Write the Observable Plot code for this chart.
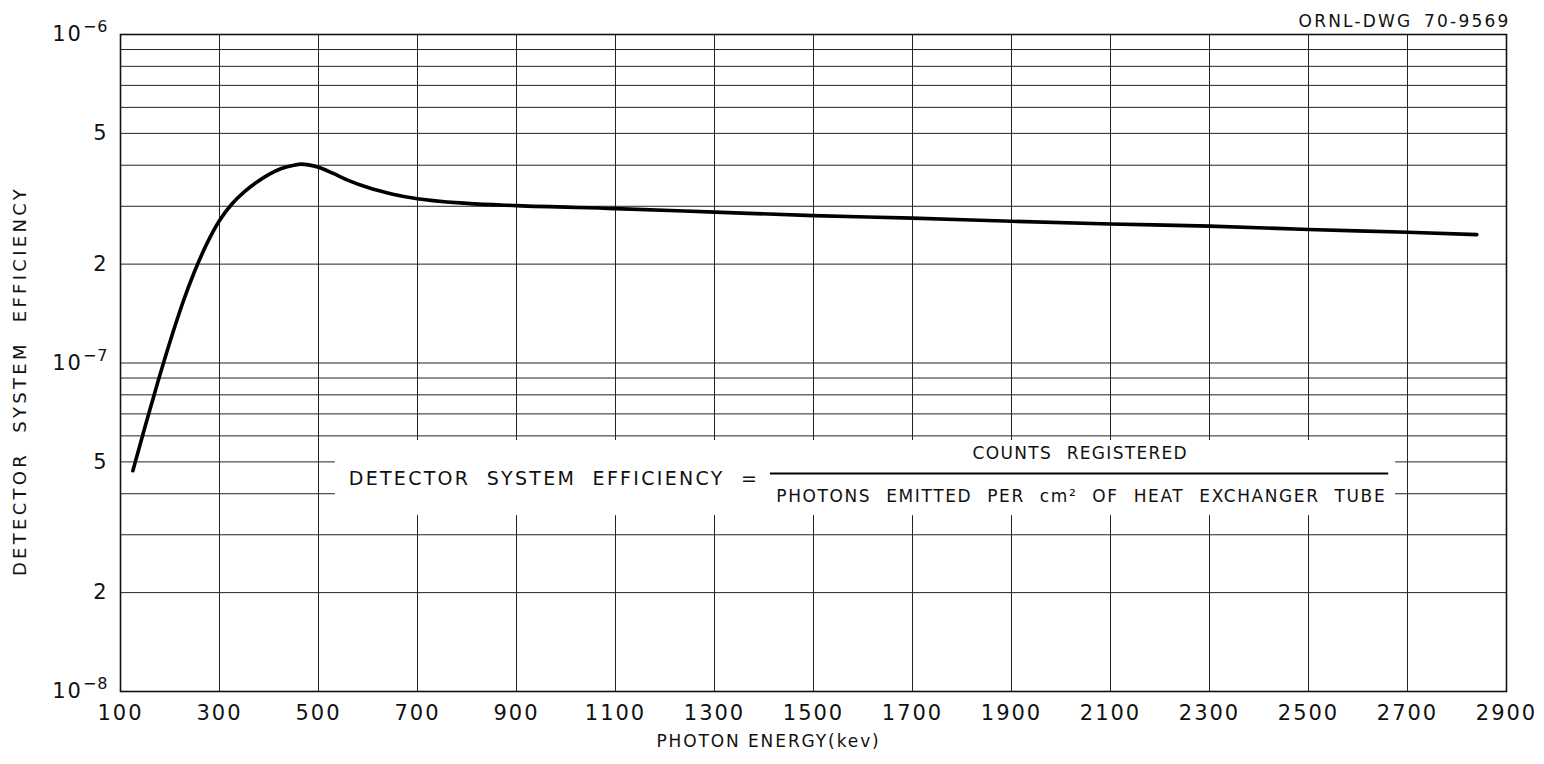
<!DOCTYPE html>
<html>
<head>
<meta charset="utf-8">
<script src="https://cdn.jsdelivr.net/npm/d3@7"></script>
<script src="https://cdn.jsdelivr.net/npm/@observablehq/plot@0.6"></script>
<style>
  html, body { margin: 0; padding: 0; background: #fff; }
  #chart svg { display: block; }
  #chart svg text { letter-spacing: 2px; }
</style>
</head>
<body>
<div id="chart"></div>
<script>
// Curve (photon energy in keV, detector system efficiency)
const energy = [125, 150, 175, 200, 225, 250, 275, 300, 325, 350, 375, 400, 425, 450, 465, 480, 500, 530, 560, 600, 650, 700, 800, 900, 1100, 1300, 1500, 1700, 1900, 2100, 2300, 2500, 2700, 2840];
const efficiency = [4.70e-8, 6.43e-8, 8.71e-8, 1.161e-7, 1.514e-7, 1.905e-7, 2.317e-7, 2.716e-7, 3.048e-7, 3.319e-7, 3.548e-7, 3.750e-7, 3.908e-7, 4.00e-7, 4.03e-7, 4.01e-7, 3.945e-7, 3.776e-7, 3.597e-7, 3.420e-7, 3.266e-7, 3.162e-7, 3.062e-7, 3.013e-7, 2.951e-7, 2.88e-7, 2.81e-7, 2.76e-7, 2.70e-7, 2.65e-7, 2.61e-7, 2.55e-7, 2.50e-7, 2.46e-7];

// Axis ticks and labels
const xTicks = [100, 300, 500, 700, 900, 1100, 1300, 1500, 1700, 1900, 2100, 2300, 2500, 2700, 2900];
const yTicks = [1e-8, 2e-8, 5e-8, 1e-7, 2e-7, 5e-7, 1e-6];
const yTickLabels = ["10⁻⁸", "2", "5", "10⁻⁷", "2", "5", "10⁻⁶"];
const yGrid = [1e-8, 2e-8, 3e-8, 4e-8, 5e-8, 6e-8, 7e-8, 8e-8, 9e-8, 1e-7, 2e-7, 3e-7, 4e-7, 5e-7, 6e-7, 7e-7, 8e-7, 9e-7, 1e-6];

// Texts
const xLabel = "PHOTON ENERGY(kev)";
const yLabel = "DETECTOR SYSTEM EFFICIENCY";
const drawingNo = "ORNL-DWG 70-9569";
const formulaLeft = "DETECTOR SYSTEM EFFICIENCY =";
const formulaNum = "COUNTS REGISTERED";
const formulaDen = "PHOTONS EMITTED PER cm² OF HEAT EXCHANGER TUBE";

// Annotation anchors (data units: keV, efficiency)
const boxX = [534, 2676];
const boxY = [3.43e-8, 5.81e-8];
const fracX = [1413, 2662];
const fracY = 4.61e-8;
const leftTextPos = [561, 4.45e-8];
const numPos = [2039, 5.3e-8];
const denPos = [2041, 3.92e-8];

const data = energy.map((e, i) => ({energy: e, efficiency: efficiency[i]}));
const yTickData = yTicks.map((v, i) => ({v, label: yTickLabels[i]}));

const chart = Plot.plot({
  width: 1544,
  height: 764,
  marginLeft: 120,
  marginRight: 38,
  marginTop: 34,
  marginBottom: 73,
  style: {fontFamily: "'DejaVu Sans', sans-serif", fontSize: "17px", color: "#111", background: "#fff"},
  x: {domain: [100, 2900]},
  y: {type: "log", domain: [1e-8, 1e-6]},
  marks: [
    Plot.ruleX(xTicks, {stroke: "#222", strokeWidth: 1}),
    Plot.ruleY(yGrid, {stroke: "#222", strokeWidth: 1}),
    Plot.rect([0], {x1: () => boxX[0], x2: () => boxX[1], y1: () => boxY[0], y2: () => boxY[1], fill: "#fff"}),
    Plot.frame({stroke: "#111", strokeWidth: 1.6}),
    Plot.axisX({ticks: xTicks, tickSize: 0, tickPadding: 14, fontSize: 21, label: null, tickFormat: d => String(d)}),
    Plot.axisY({ticks: yTicks, tickSize: 0, label: null, tickFormat: () => ""}),
    Plot.text(yTickData, {y: "v", text: "label", frameAnchor: "left", textAnchor: "end", dx: -12, fontSize: 21}),
    Plot.text([xLabel], {frameAnchor: "bottom", dx: -45, dy: 55, fontSize: 17}),
    Plot.text([yLabel], {frameAnchor: "left", rotate: -90, textAnchor: "middle", dx: -100, dy: 18, fontSize: 18}),
    Plot.text([drawingNo], {frameAnchor: "top-right", textAnchor: "end", dx: 4, dy: -20, fontSize: 17}),
    Plot.line(data, {x: "energy", y: "efficiency", stroke: "#000", strokeWidth: 3.6, curve: "monotone-x"}),
    Plot.text([formulaLeft], {x: () => leftTextPos[0], y: () => leftTextPos[1], textAnchor: "start", fontSize: 19}),
    Plot.ruleY([fracY], {x1: fracX[0], x2: fracX[1], stroke: "#000", strokeWidth: 2}),
    Plot.text([formulaNum], {x: () => numPos[0], y: () => numPos[1], fontSize: 17}),
    Plot.text([formulaDen], {x: () => denPos[0], y: () => denPos[1], fontSize: 17})
  ]
});

// Per-text letter / word spacing to mimic the lettering-guide widths
const spacing = new Map([
  [formulaLeft, ["2.3px", "8px"]],
  [formulaNum, ["1.3px", "8px"]],
  [formulaDen, ["1.6px", "8px"]],
  [yLabel, ["3.3px", "10px"]],
  [xLabel, ["1.9px", "0px"]],
  [drawingNo, ["2.2px", "4px"]]
]);
const supMap = {"⁻": "−", "⁶": "6", "⁷": "7", "⁸": "8"};
d3.select(chart).selectAll("text").each(function () {
  const t = this.textContent;
  const s = spacing.get(t);
  if (s) d3.select(this).style("letter-spacing", s[0]).style("word-spacing", s[1]);
  if (t.startsWith("10⁻")) {
    const exp = Array.from(t.slice(2)).map(c => supMap[c] || c).join("");
    const el = d3.select(this);
    el.text(null);
    el.append("tspan").text("10");
    el.append("tspan").attr("dy", "-0.55em").style("font-size", "16px").style("letter-spacing", "1px").text(exp);
  }
});

document.getElementById("chart").appendChild(chart);
</script>
</body>
</html>
